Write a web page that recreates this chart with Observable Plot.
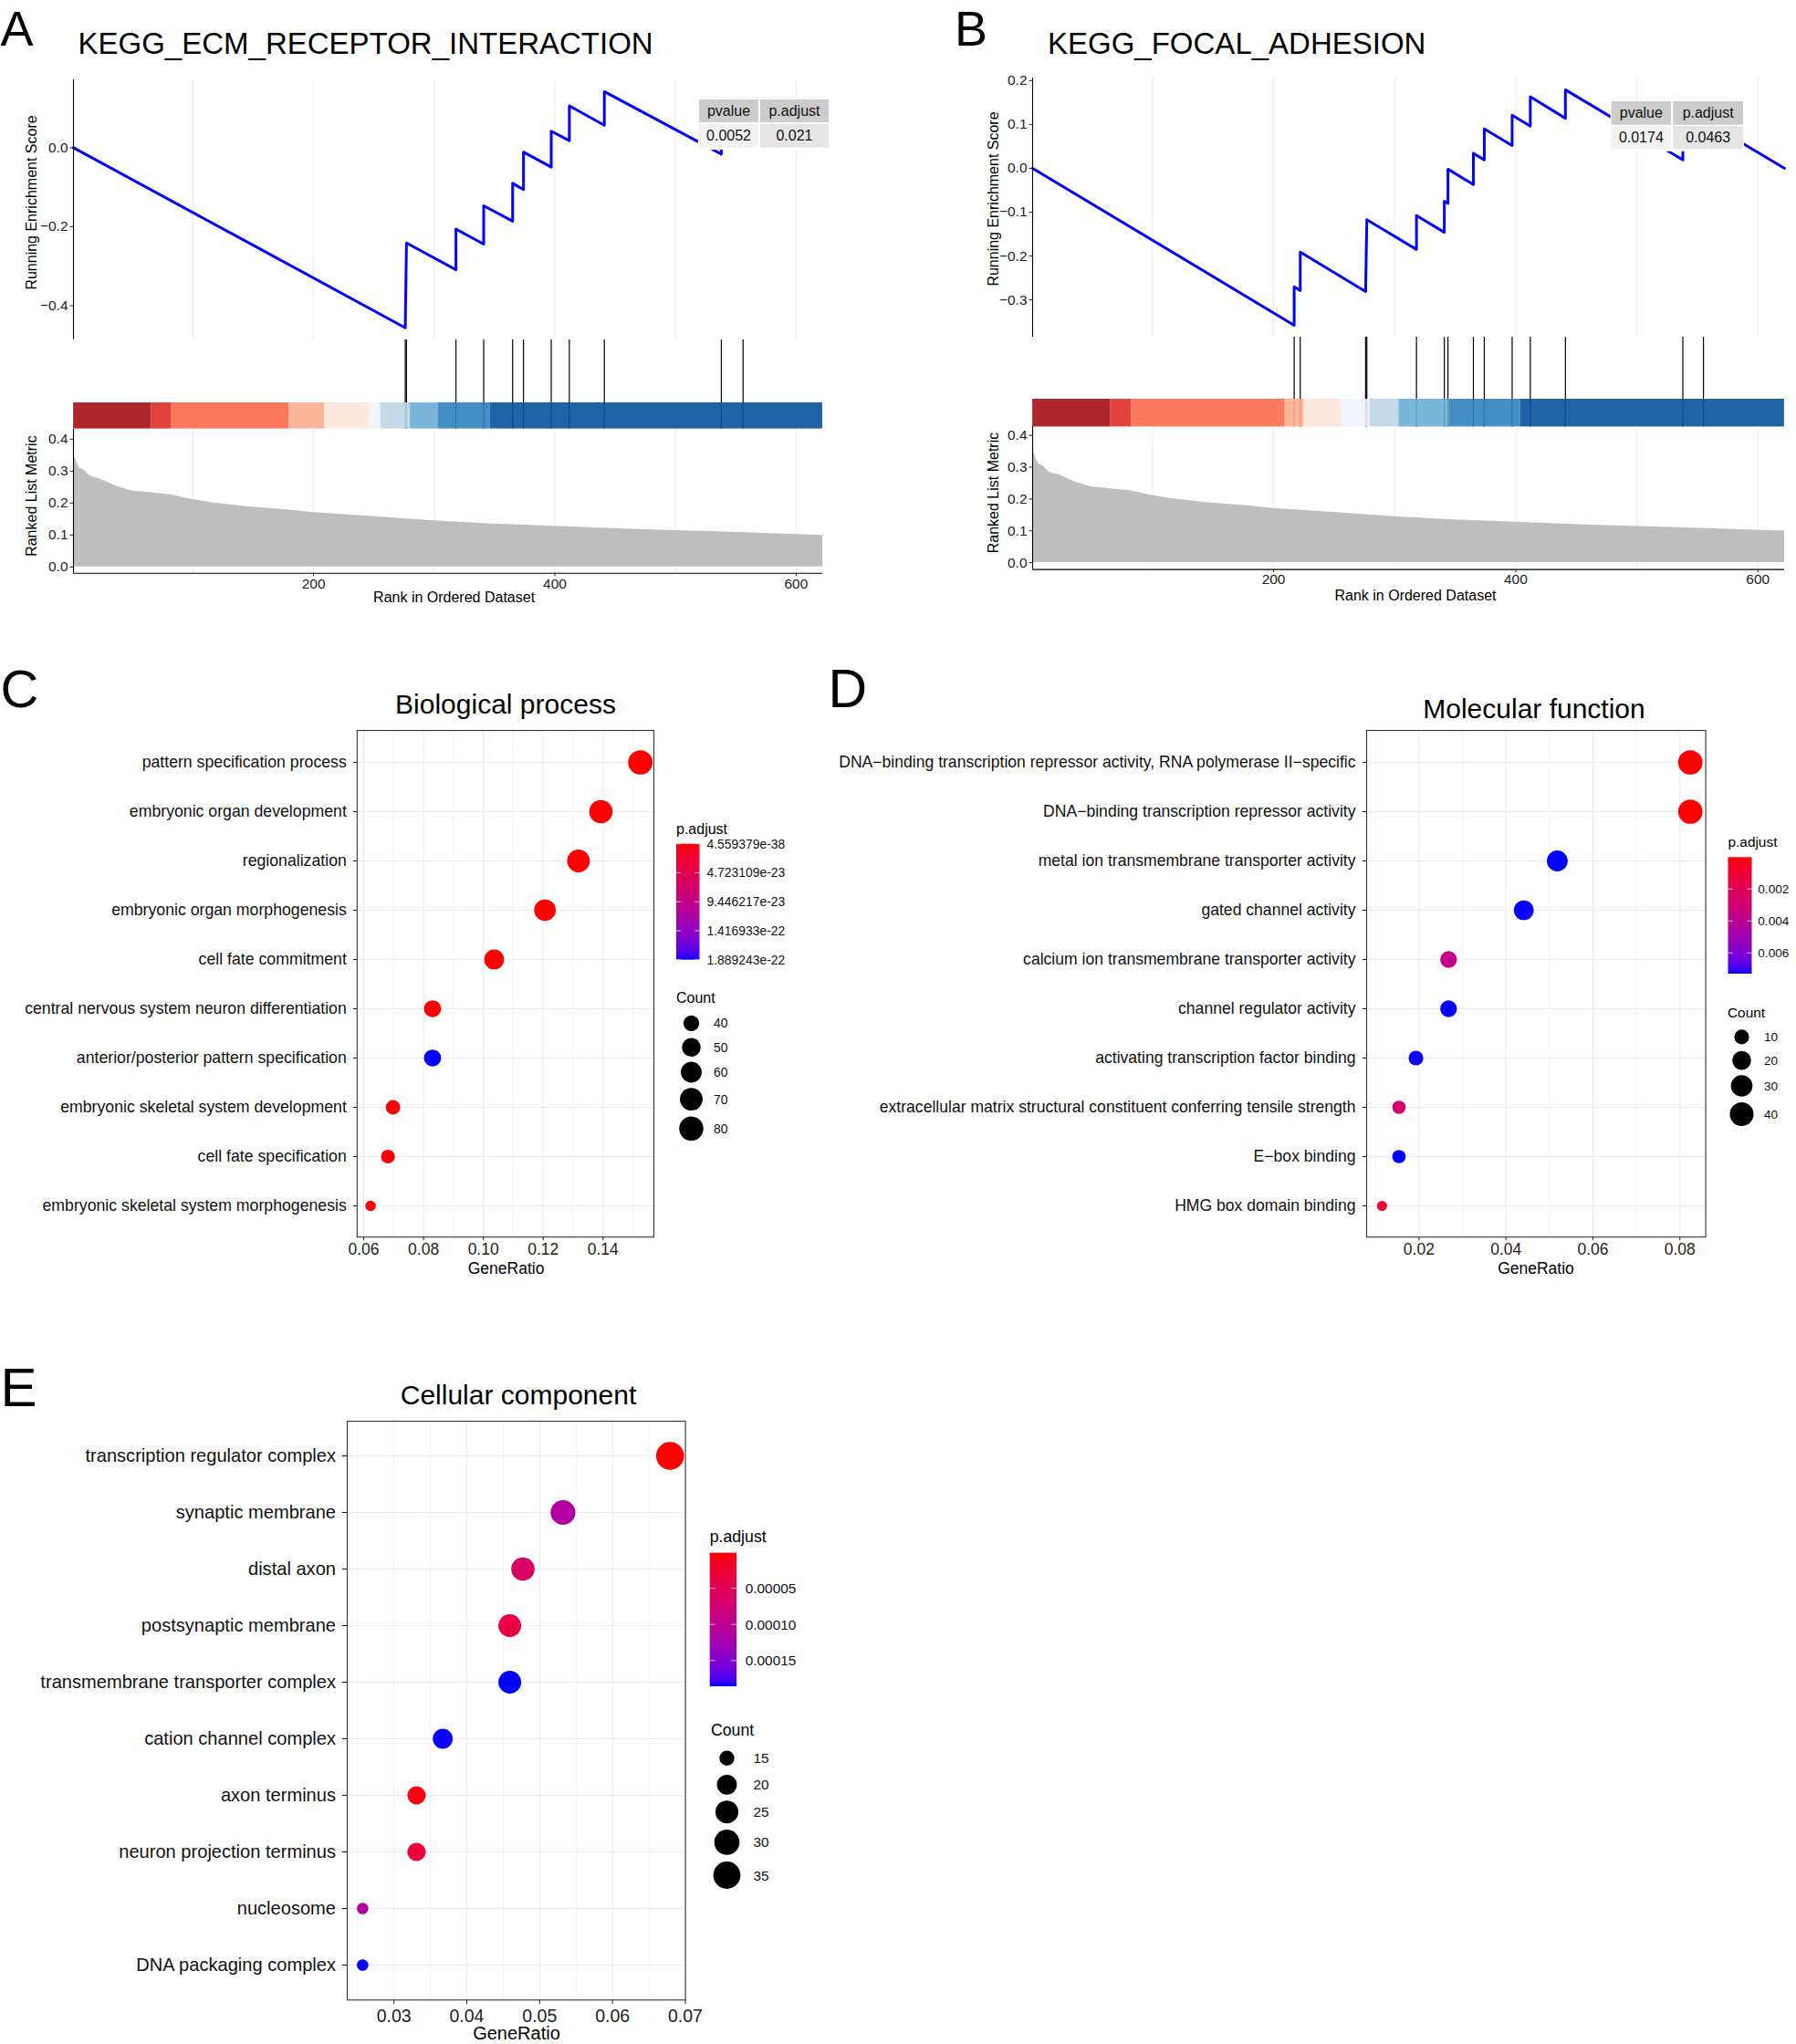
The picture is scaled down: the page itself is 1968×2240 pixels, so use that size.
<!DOCTYPE html>
<html>
<head>
<meta charset="utf-8">
<script src="https://cdn.jsdelivr.net/npm/d3@7"></script>
<script src="https://cdn.jsdelivr.net/npm/@observablehq/plot@0.6"></script>
<style>
html,body{margin:0;padding:0;background:#fff;}
#page{position:relative;width:1968px;height:2240px;overflow:hidden;background:#fff;}
.abs{position:absolute;}
.abs svg{display:block;max-width:none !important;}
</style>
</head>
<body>
<div id="page"></div>
<script>
// ---------------- DATA ----------------
// GSEA shared
const rankDomain = [1, 622];
const rankGrid = [100, 200, 300, 400, 500, 600];
const rankTicks = [200, 400, 600];
const metricTicks = [0, 0.1, 0.2, 0.3, 0.4];
const metricRanks  = [1, 2, 4, 6, 10, 13, 16, 23, 35, 49, 66, 82, 97, 116, 144, 178, 200, 249, 297, 344, 400, 463, 535, 622];
const metricValues = [0.365, 0.345, 0.325, 0.31, 0.303, 0.29, 0.282, 0.276, 0.255, 0.238, 0.232, 0.226, 0.213, 0.201, 0.189, 0.179, 0.170, 0.158, 0.145, 0.135, 0.127, 0.118, 0.110, 0.099];
const segColors = ["#A50F15", "#DE2D26", "#FB6A4A", "#FCAE91", "#FEE5D9", "#EFF3FF", "#BDD7E7", "#6BAED6", "#3182BD", "#08519C"];
const tableHeader = ["pvalue", "p.adjust"];

// Panel A
const titleA = "KEGG_ECM_RECEPTOR_INTERACTION";
const esRanksA  = [1, 276, 277, 318, 318, 341, 341, 365, 365, 374, 374, 397, 397, 412, 412, 441, 441, 538, 538, 556, 556, 622];
const esValuesA = [0, -0.456, -0.241, -0.309, -0.206, -0.244, -0.147, -0.186, -0.090, -0.106, -0.011, -0.049, 0.042, 0.018, 0.106, 0.057, 0.142, -0.016, 0.062, 0.034, 0.109, 0];
const hitsA = [276, 277, 318, 341, 365, 374, 397, 412, 441, 538, 556];
const segEdgesA = [1, 65.7, 82.4, 179.5, 209, 246.6, 255.6, 280.2, 303.3, 346.4, 622];
const esTicksA = [-0.4, -0.2, 0.0];
const tableA = ["0.0052", "0.021"];

// Panel B
const titleB = "KEGG_FOCAL_ADHESION";
const esRanksB  = [1, 217, 217, 222, 222, 276, 277, 318, 318, 341, 341, 344, 344, 365, 365, 374, 374, 397, 397, 412, 412, 441, 441, 538, 538, 555, 555, 622];
const esValuesB = [0, -0.358, -0.270, -0.279, -0.191, -0.281, -0.117, -0.185, -0.108, -0.146, -0.075, -0.080, -0.002, -0.037, 0.034, 0.019, 0.090, 0.052, 0.121, 0.096, 0.163, 0.114, 0.179, 0.019, 0.085, 0.057, 0.110, 0];
const hitsB = [217, 222, 276, 277, 318, 341, 344, 365, 374, 397, 412, 441, 538, 555];
const segEdgesB = [1, 65.5, 82.5, 209.5, 225, 256, 279.5, 303.5, 345, 404, 622];
const esTicksB = [-0.3, -0.2, -0.1, 0.0, 0.1, 0.2];
const tableB = ["0.0174", "0.0463"];

// Panel C
const titleC = "Biological process";
const termsC = ["pattern specification process", "embryonic organ development", "regionalization", "embryonic organ morphogenesis", "cell fate commitment", "central nervous system neuron differentiation", "anterior/posterior pattern specification", "embryonic skeletal system development", "cell fate specification", "embryonic skeletal system morphogenesis"];
const ratioC = [0.1525, 0.1393, 0.1318, 0.1206, 0.1036, 0.0830, 0.0830, 0.0698, 0.0681, 0.0623];
const countC = [81, 74, 70, 64, 55, 44, 44, 37, 36, 33];
const padjC  = [4.559379e-38, 1.1e-36, 3.5e-34, 2.2e-32, 6.8e-30, 1.3e-24, 1.889243e-22, 4.1e-26, 8.9e-27, 2.7e-25];
const xTicksC = [0.06, 0.08, 0.10, 0.12, 0.14];
const xMinorC = [0.07, 0.09, 0.11, 0.13, 0.15];
const countLegendC = [40, 50, 60, 70, 80];
const padjLegendC = [4.559379e-38, 4.723109e-23, 9.446217e-23, 1.416933e-22, 1.889243e-22];

// Panel D
const titleD = "Molecular function";
const termsD = ["DNA\u2212binding transcription repressor activity, RNA polymerase II\u2212specific", "DNA\u2212binding transcription repressor activity", "metal ion transmembrane transporter activity", "gated channel activity", "calcium ion transmembrane transporter activity", "channel regulator activity", "activating transcription factor binding", "extracellular matrix structural constituent conferring tensile strength", "E\u2212box binding", "HMG box domain binding"];
const ratioD = [0.0824, 0.0824, 0.0518, 0.0441, 0.0268, 0.0268, 0.0193, 0.0154, 0.0154, 0.0115];
const countD = [43, 43, 27, 23, 14, 14, 10, 8, 8, 6];
const padjD  = [2e-6, 3e-6, 0.0073, 0.00728, 0.0037, 0.00729, 0.00728, 0.0028, 0.0073, 0.0009];
const xTicksD = [0.02, 0.04, 0.06, 0.08];
const xMinorD = [0.01, 0.03, 0.05, 0.07];
const countLegendD = [10, 20, 30, 40];
const padjLegendD = [0.002, 0.004, 0.006];

// Panel E
const titleE = "Cellular component";
const termsE = ["transcription regulator complex", "synaptic membrane", "distal axon", "postsynaptic membrane", "transmembrane transporter complex", "cation channel complex", "axon terminus", "neuron projection terminus", "nucleosome", "DNA packaging complex"];
const ratioE = [0.0679, 0.0532, 0.0477, 0.0459, 0.0459, 0.0367, 0.0331, 0.0331, 0.0257, 0.0257];
const countE = [37, 29, 26, 25, 25, 20, 18, 18, 14, 14];
const padjE  = [8e-7, 1.12e-4, 6.2e-5, 3.8e-5, 1.857e-4, 1.852e-4, 6e-6, 2.9e-5, 1.15e-4, 1.855e-4];
const xTicksE = [0.03, 0.04, 0.05, 0.06, 0.07];
const xMinorE = [0.025, 0.035, 0.045, 0.055, 0.065];
const countLegendE = [15, 20, 25, 30, 35];
const padjLegendE = [0.00005, 0.00010, 0.00015];

// ---------------- LAYOUT ----------------
const FONT = '"Liberation Sans", Arial, Helvetica, sans-serif';
const page = document.getElementById("page");
const baseStyle = {fontFamily: FONT, fontSize: "15.5px", background: "transparent", overflow: "visible", color: "black"};

function place(node, left, top, width) {
  const d = document.createElement("div");
  d.className = "abs";
  d.style.left = left + "px";
  d.style.top = top + "px";
  if (width) d.style.width = width + "px";
  d.appendChild(node);
  page.appendChild(d);
  return node;
}
function expand(ext, f = 0.05) { const r = ext[1] - ext[0]; return [ext[0] - r * f, ext[1] + r * f]; }

const metric = metricRanks.map((r, i) => ({rank: r, value: metricValues[i]}));

function gseaPanel(L, esRanks, esValues, hits, segEdges, esTicks) {
  const W = 80 + (L.x1 - L.x0) + L.mr;
  const left = L.x0 - 80;
  const common = {width: W, marginLeft: 80, marginRight: L.mr, style: baseStyle};
  const es = esRanks.map((r, i) => ({rank: r, es: esValues[i]}));
  const esDom = expand(d3.extent(esValues));
  const fmt = d3.format(".1f");

  const up = Plot.plot({
    ...common, height: (L.esBottom - L.esTop) + 6, marginTop: 6, marginBottom: 0,
    x: {domain: rankDomain, axis: null},
    y: {domain: esDom},
    marks: [
      Plot.gridX(rankGrid, {stroke: "#EBEBEB", strokeOpacity: 1}),
      Plot.line(es, {x: "rank", y: "es", stroke: "#0000FF", strokeWidth: 3}),
      Plot.ruleX([rankDomain[0]], {stroke: "black", strokeWidth: 1.1}),
      Plot.axisY(esTicks, {tickSize: 3.5, tickPadding: 2.5, tickFormat: fmt, label: null, color: "#222", fontSize: 15.5})
    ]
  });
  place(up, left, L.esTop - 6, W);

  const tk = Plot.plot({
    ...common, height: L.barTop - L.esBottom, marginTop: 0, marginBottom: 0,
    x: {domain: rankDomain, axis: null},
    marks: [Plot.ruleX(hits, {stroke: "black", strokeWidth: 1.2})]
  });
  place(tk, left, L.esBottom, W);

  const segs = segColors.map((c, i) => ({x1: segEdges[i], x2: segEdges[i + 1], c}));
  const bar = Plot.plot({
    ...common, height: L.barBottom - L.barTop, marginTop: 0, marginBottom: 0,
    x: {domain: rankDomain, axis: null},
    color: {type: "identity"},
    marks: [
      Plot.ruleX(hits, {stroke: "black", strokeWidth: 1.2}),
      Plot.rect(segs, {x1: "x1", x2: "x2", fill: "c", fillOpacity: 0.9})
    ]
  });
  place(bar, left, L.barTop, W);

  const mDom = [-(L.mBottom - L.mZero) / L.mScale, (L.mZero - L.barBottom) / L.mScale];
  const met = Plot.plot({
    ...common, height: (L.mBottom - L.barBottom) + 40, marginTop: 0, marginBottom: 40,
    x: {domain: rankDomain},
    y: {domain: mDom},
    marks: [
      Plot.gridX(rankGrid, {stroke: "#EBEBEB", strokeOpacity: 1}),
      Plot.areaY(metric, {x: "rank", y: "value", fill: "#BEBEBE"}),
      Plot.ruleX([rankDomain[0]], {stroke: "black", strokeWidth: 1.1}),
      Plot.ruleY([mDom[0]], {stroke: "black", strokeWidth: 1.1}),
      Plot.axisY(metricTicks, {tickSize: 3.5, tickPadding: 2.5, tickFormat: fmt, label: null, color: "#222", fontSize: 15.5}),
      Plot.axisX(rankTicks, {tickSize: 3.5, tickPadding: 1.7, label: null, color: "#222", fontSize: 15.5})
    ]
  });
  place(met, left, L.barBottom, W);
}

const layA = {x0: 80, x1: 901, mr: 19, esTop: 87, esBottom: 371.7, barTop: 441, barBottom: 469.6, mZero: 620.4, mBottom: 627.4, mScale: 350};
const layB = {x0: 1131, x1: 1955, mr: 13, esTop: 84.8, esBottom: 368.7, barTop: 437, barBottom: 467.4, mZero: 616.5, mBottom: 624, mScale: 348.75};
gseaPanel(layA, esRanksA, esValuesA, hitsA, segEdgesA, esTicksA);
gseaPanel(layB, esRanksB, esValuesB, hitsB, segEdgesB, esTicksB);

function dotPanel(D) {
  const data = D.terms.map((t, i) => ({term: t, ratio: D.ratio[i], count: D.count[i], p: D.padj[i]}));
  const xDom = expand(d3.extent(D.ratio));
  const mTop = 10, mBot = 45;
  const W = D.fR - D.cLeft + D.mr;
  const r0 = D.r0, r1 = D.r1;
  const plot = Plot.plot({
    width: W, height: (D.fB - D.fT) + mTop + mBot,
    marginLeft: D.fL - D.cLeft, marginRight: D.mr, marginTop: mTop, marginBottom: mBot,
    style: {...baseStyle, fontSize: D.tickFs + "px"},
    x: {domain: xDom},
    y: {type: "point", domain: D.terms, padding: 0.6},
    r: {type: "linear", domain: d3.extent(D.count), range: [0, 1], interpolate: t => r0 + (r1 - r0) * Math.sqrt(Math.max(0, t))},
    color: {type: "linear", domain: d3.extent(D.padj), range: ["red", "blue"], interpolate: "lab"},
    marks: [
      Plot.gridX(D.xMinor, {stroke: "#F0F0F0", strokeOpacity: 1, strokeWidth: 0.8}),
      Plot.gridX(D.xTicks, {stroke: "#EBEBEB", strokeOpacity: 1, strokeWidth: 1}),
      Plot.gridY(D.terms, {stroke: "#EBEBEB", strokeOpacity: 1, strokeWidth: 1}),
      Plot.dot(data, {x: "ratio", y: "term", r: "count", fill: "p"}),
      Plot.frame({stroke: "#333", strokeWidth: 1.1}),
      Plot.axisX(D.xTicks, {tickFormat: d3.format(".2f"), tickSize: D.tickLen, tickPadding: D.xPad, label: null, fontSize: D.tickFs, color: "#222"}),
      Plot.axisY({tickSize: D.tickLen, tickPadding: D.yPad, label: null, fontSize: D.labFs, color: "#111"})
    ]
  });
  place(plot, D.cLeft, D.fT - mTop, W);
  return plot;
}

const plotC = dotPanel({terms: termsC, ratio: ratioC, count: countC, padj: padjC, xTicks: xTicksC, xMinor: xMinorC,
  cLeft: 0, fL: 390.8, fR: 716, fT: 799.6, fB: 1354.8, mr: 14, tickFs: 17.5, labFs: 17.7, tickLen: 4, xPad: 2.7, yPad: 7.5, r0: 5.7, r1: 13.35});
const plotD = dotPanel({terms: termsD, ratio: ratioD, count: countD, padj: padjD, xTicks: xTicksD, xMinor: xMinorD,
  cLeft: 900, fL: 1497, fR: 1868.6, fT: 799.6, fB: 1354.8, mr: 20, tickFs: 17.5, labFs: 17.6, tickLen: 4, xPad: 2.7, yPad: 8, r0: 5.5, r1: 13.35});
const plotE = dotPanel({terms: termsE, ratio: ratioE, count: countE, padj: padjE, xTicks: xTicksE, xMinor: xMinorE,
  cLeft: 0, fL: 380, fR: 750.6, fT: 1556.7, fB: 2191, mr: 14, tickFs: 19.5, labFs: 20.1, tickLen: 5, xPad: 5, yPad: 7.5, r0: 6.3, r1: 15.3});

// ---------------- OVERLAY (titles, tables, legends) ----------------
const ov = d3.select(page).append("svg")
  .attr("width", 1968).attr("height", 2240)
  .style("position", "absolute").style("left", "0px").style("top", "0px")
  .style("font-family", FONT).style("overflow", "hidden");
const defs = ov.append("defs");

function text(s, x, y, o = {}) {
  const t = ov.append("text").attr("x", x).attr("y", y).text(s)
    .attr("font-size", o.fs || 16).attr("fill", o.fill || "black")
    .attr("text-anchor", o.anchor || "start");
  if (o.rotate) t.attr("transform", `rotate(${o.rotate},${x},${y})`);
  if (o.db) t.attr("dominant-baseline", o.db);
  return t;
}

// panel letters
text("A", 0.5, 49.5, {fs: 54});
text("B", 1046, 49.5, {fs: 54});
text("C", 0.5, 775, {fs: 58});
text("D", 907.5, 775, {fs: 59});
text("E", 0.5, 1541, {fs: 60});

// GSEA titles and axis titles
text(titleA, 85.5, 59, {fs: 33});
text(titleB, 1148, 59, {fs: 33});
text("Running Enrichment Score", 40.3, 222, {fs: 16, anchor: "middle", rotate: -90});
text("Ranked List Metric", 40.3, 543.6, {fs: 16, anchor: "middle", rotate: -90});
text("Rank in Ordered Dataset", 497.6, 659.7, {fs: 16, anchor: "middle"});
text("Running Enrichment Score", 1093.5, 218, {fs: 16, anchor: "middle", rotate: -90});
text("Ranked List Metric", 1093.5, 540, {fs: 16, anchor: "middle", rotate: -90});
text("Rank in Ordered Dataset", 1551, 657.7, {fs: 16, anchor: "middle"});

// p-value tables
function pTable(T, values) {
  const bodyFill = ["#F2F2F2", "#E5E5E5"];
  const X0 = T.cols[0][0], X1 = T.cols[1][1];
  ov.append("rect").attr("x", X0 - 1).attr("y", T.hy[0] - 1).attr("width", X1 - X0 + 2).attr("height", T.by[1] - T.hy[0] + 3.5).attr("fill", "white");
  tableHeader.forEach((h, j) => {
    const [x0, x1] = T.cols[j];
    ov.append("rect").attr("x", x0).attr("y", T.hy[0]).attr("width", x1 - x0).attr("height", T.hy[1] - T.hy[0]).attr("fill", "#CCCCCC");
    ov.append("rect").attr("x", x0).attr("y", T.by[0]).attr("width", x1 - x0).attr("height", T.by[1] - T.by[0]).attr("fill", bodyFill[j]);
    text(h, (x0 + x1) / 2, (T.hy[0] + T.hy[1]) / 2, {fs: 16, anchor: "middle", db: "central", fill: "#111"});
    text(values[j], (x0 + x1) / 2, (T.by[0] + T.by[1]) / 2, {fs: 16, anchor: "middle", db: "central", fill: "#111"});
  });
}
pTable({cols: [[766, 831], [833, 908]], hy: [109, 134], by: [135.7, 161.6]}, tableA);
pTable({cols: [[1765.7, 1831], [1833.3, 1910]], hy: [111, 136.7], by: [138.3, 163.3]}, tableB);

// dotplot titles and x titles
text(titleC, 554, 782, {fs: 30, anchor: "middle"});
text(titleD, 1681, 787, {fs: 30, anchor: "middle"});
text(titleE, 568, 1539, {fs: 30, anchor: "middle"});
text("GeneRatio", 554.6, 1396, {fs: 17.5, anchor: "middle"});
text("GeneRatio", 1683, 1396, {fs: 17.5, anchor: "middle"});
text("GeneRatio", 566, 2235, {fs: 20, anchor: "middle"});

// legends
let gradId = 0;
function colorLegend(plot, L) {
  const cs = plot.scale("color");
  const [d0, d1] = cs.domain;
  const id = "grad" + (gradId++);
  const g = defs.append("linearGradient").attr("id", id).attr("x1", 0).attr("y1", 0).attr("x2", 0).attr("y2", 1);
  for (let i = 0; i <= 40; i++) {
    const t = i / 40;
    g.append("stop").attr("offset", t).attr("stop-color", cs.apply(d0 + t * (d1 - d0)));
  }
  const h = L.by1 - L.by0;
  ov.append("rect").attr("x", L.bx).attr("y", L.by0).attr("width", L.bw).attr("height", h).attr("fill", `url(#${id})`);
  text("p.adjust", L.bx, L.titleY, {fs: L.tfs});
  L.ticks.forEach(v => {
    const y = L.by0 + (v - d0) / (d1 - d0) * h;
    const tl = L.bw / 5;
    ov.append("line").attr("x1", L.bx).attr("x2", L.bx + tl).attr("y1", y).attr("y2", y).attr("stroke", "white").attr("stroke-opacity", 0.7);
    ov.append("line").attr("x1", L.bx + L.bw - tl).attr("x2", L.bx + L.bw).attr("y1", y).attr("y2", y).attr("stroke", "white").attr("stroke-opacity", 0.7);
    text(L.fmt(v), L.lx, y + 0.358 * L.fs, {fs: L.fs, fill: "#111"});
  });
}
function sizeLegend(plot, L) {
  const rs = plot.scale("r");
  text("Count", L.x, L.titleY, {fs: L.tfs});
  L.vals.forEach((v, i) => {
    ov.append("circle").attr("cx", L.cx).attr("cy", L.cy[i]).attr("r", rs.apply(v)).attr("fill", "black");
    text(String(v), L.lx, L.cy[i] + 0.358 * L.fs, {fs: L.fs, fill: "#111"});
  });
}

colorLegend(plotC, {bx: 741, bw: 25.5, by0: 924.7, by1: 1051.7, lx: 774.5, fs: 13.9, tfs: 16, titleY: 913.5, ticks: padjLegendC, fmt: d3.format(".6e")});
sizeLegend(plotC, {x: 741, titleY: 1099.4, tfs: 16, cx: 757.5, cy: [1121.4, 1147.8, 1175, 1204.6, 1236.8], lx: 782, fs: 13.9, vals: countLegendC});

colorLegend(plotD, {bx: 1893.5, bw: 26, by0: 939.3, by1: 1067, lx: 1926.3, fs: 13.6, tfs: 15.4, titleY: 927.6, ticks: padjLegendD, fmt: d3.format(".3f")});
sizeLegend(plotD, {x: 1893, titleY: 1115, tfs: 15.4, cx: 1908.5, cy: [1136.4, 1162.1, 1190, 1221], lx: 1933, fs: 13.6, vals: countLegendD});

colorLegend(plotE, {bx: 777.7, bw: 29.4, by0: 1701.6, by1: 1848, lx: 816.7, fs: 15.4, tfs: 17.7, titleY: 1689.5, ticks: padjLegendE, fmt: d3.format(".5f")});
sizeLegend(plotE, {x: 779, titleY: 1901.9, tfs: 17.7, cx: 796.5, cy: [1926.8, 1955.8, 1985.7, 2018.9, 2055], lx: 825.5, fs: 15.4, vals: countLegendE});
</script>
</body>
</html>
